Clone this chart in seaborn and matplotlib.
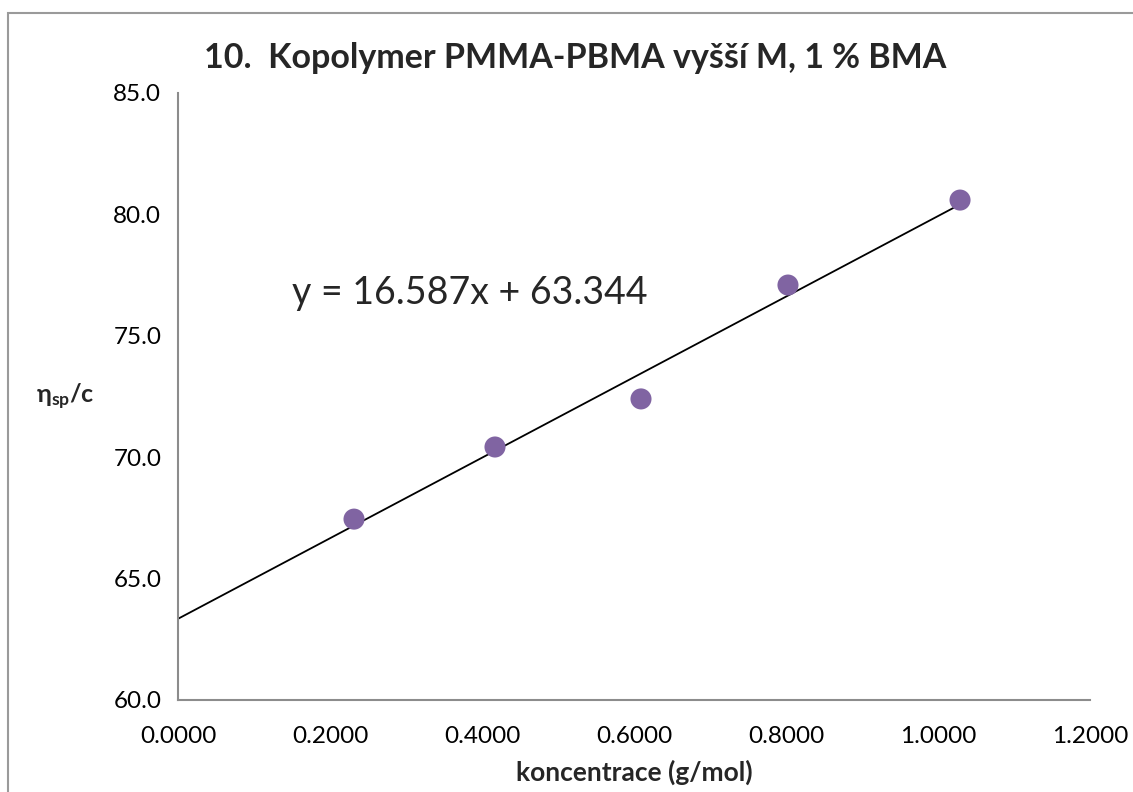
import numpy as np
import pandas as pd
import matplotlib
matplotlib.use("Agg")
import matplotlib.pyplot as plt
from matplotlib.patches import Rectangle
import seaborn as sns

# Data
konc = [0.2316, 0.4171, 0.6092, 0.8026, 1.0290]
eta_c = [67.45, 70.42, 72.40, 77.09, 80.59]
slope = 16.587
intercept = 63.344
x_ticks = [0.0, 0.2, 0.4, 0.6, 0.8, 1.0, 1.2]
y_ticks = [60.0, 65.0, 70.0, 75.0, 80.0, 85.0]
title = "10.  Kopolymer PMMA-PBMA vyšší M, 1 % BMA"
xlabel = "koncentrace (g/mol)"
eq_text = "y = 16.587x + 63.344"

sns.set_style("white")
plt.rcParams["font.family"] = ["Lato", "DejaVu Sans"]
plt.rcParams["mathtext.fontset"] = "custom"
plt.rcParams["mathtext.rm"] = "Lato"
plt.rcParams["mathtext.bf"] = "Lato:bold"

df = pd.DataFrame({"x": konc, "y": eta_c})
line_x = [0.0, max(konc)]
line_df = pd.DataFrame({"x": line_x, "y": [slope * v + intercept for v in line_x]})

fig = plt.figure(figsize=(11.33, 7.92), dpi=100)
ax = fig.add_axes([178 / 1133, 1 - 700 / 792, (1090 - 178) / 1133, (700 - 93) / 792])

# figure border
fig.patches.append(Rectangle((8 / 1133, -0.05), 1.1, 1 - 13 / 792 + 0.05,
                             transform=fig.transFigure, fill=False,
                             edgecolor="#9a9a9a", linewidth=1.5, zorder=0))

sns.lineplot(data=line_df, x="x", y="y", ax=ax, color="black", linewidth=1.3, zorder=2)
sns.scatterplot(data=df, x="x", y="y", ax=ax, color="#8064A2", s=230,
                edgecolor="none", zorder=3)

ax.set_xlim(0, 1.2)
ax.set_ylim(60, 85)
ax.set_xticks(x_ticks)
ax.set_yticks(y_ticks)
ax.set_xticklabels([f"{v:.4f}" for v in x_ticks])
ax.set_yticklabels([f"{v:.1f}" for v in y_ticks])
ax.tick_params(axis="both", direction="out", length=6, width=1.5, color="#8c8c8c",
               labelsize=17.5, labelcolor="black", pad=6)
ax.tick_params(axis="x", pad=13)

for s in ["top", "right"]:
    ax.spines[s].set_visible(False)
for s in ["left", "bottom"]:
    ax.spines[s].set_color("#8c8c8c")
    ax.spines[s].set_linewidth(1.5)

ax.set_xlabel(xlabel, fontsize=19, fontweight="bold", labelpad=9)
ax.set_ylabel(r"$\mathbf{\eta_{sp}/c}$", fontsize=18, rotation=0)
ax.yaxis.set_label_coords(-0.124, 0.475)

fig.text(575 / 1133, 1 - 58 / 792, title, fontsize=24.5, fontweight="bold",
         ha="center", va="center")
ax.text(292 / 1133, 1 - 293 / 792, eq_text, transform=fig.transFigure,
        fontsize=27, ha="left", va="center")

ax.set_facecolor("white")
fig.patch.set_facecolor("white")
fig.savefig("out.png", dpi=100)
